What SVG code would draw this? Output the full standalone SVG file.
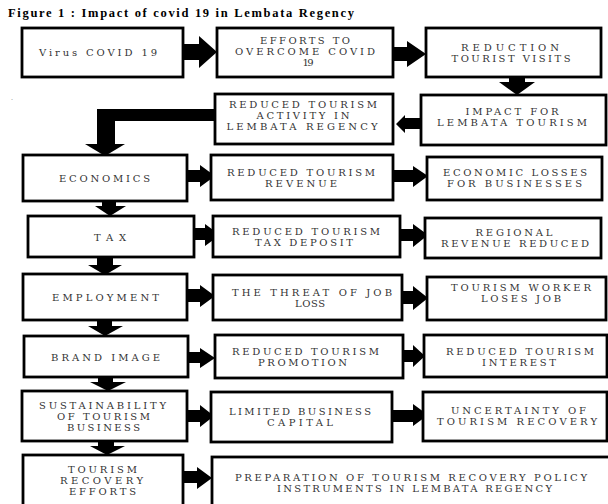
<svg xmlns="http://www.w3.org/2000/svg" width="608" height="504" viewBox="0 0 608 504">
  <style>
    .box { fill: #ffffff; stroke: #000000; stroke-width: 2.8; }
    .lbl { font-family: "DejaVu Serif", "Liberation Serif", serif; font-size: 10px; fill: #333333; text-anchor: middle; }
    .title { font-family: "Liberation Serif", "Times New Roman", serif; font-size: 12.5px; font-weight: bold; fill: #000000; }
    .arrow { fill: #000000; stroke: none; }
  </style>
  <rect width="608" height="504" fill="#ffffff"/>

  <text class="title" x="8" y="17" textLength="346" lengthAdjust="spacing">Figure 1 : Impact of covid 19 in Lembata Regency</text>
  <text x="11" y="100" font-family="Liberation Serif, serif" font-size="8" fill="#888888">.</text>

  <!-- connectors: block arrows -->
  <g id="connectors">
    <polygon class="arrow" points="183,44 199,44 199,36 217,52 199,68 199,60 183,60"/>
    <polygon class="arrow" points="393,47 407,47 407,41 426,54 407,67 407,61 393,61"/>
    <polygon class="arrow" points="509,77 525,77 525,82 535,82 517,95 499,82 509,82"/>
    <polygon class="arrow" points="421,118 405,118 405,115 396,124 405,133 405,129 421,129"/>
    <polygon class="arrow" points="215,109 97,109 97,144 85,144 105,156 125,144 115,144 115,121 215,121"/>
    <polygon class="arrow" points="102,201 116,201 116,206 126,206 110,216 95,206 102,206"/>
    <polygon class="arrow" points="97,257 113,257 113,265 122,265 105,275 88,265 97,265"/>
    <polygon class="arrow" points="97,320 112,320 112,326 123,326 105,336 88,326 97,326"/>
    <polygon class="arrow" points="98,377 113,377 113,382 126,382 108,391 90,382 98,382"/>
    <polygon class="arrow" points="98,441 114,441 114,446 125,446 107,455 90,446 98,446"/>
    <polygon class="arrow" points="183,471 197,471 197,467 212,478 197,489 197,483 183,483"/>
    <polygon class="arrow" points="187,170 200,170 200,165 215,176 200,187 200,182 187,182"/>
    <polygon class="arrow" points="393,170 413,170 413,166 428,176 413,187 413,182 393,182"/>
    <polygon class="arrow" points="194,228 205,228 205,224 220,235 205,246 205,240 194,240"/>
    <polygon class="arrow" points="400,229 413,229 413,224 428,235 413,247 413,241 400,241"/>
    <polygon class="arrow" points="187,289 200,289 200,285 215,296 200,307 200,302 187,302"/>
    <polygon class="arrow" points="402,291 413,291 413,286 428,298 413,310 413,304 402,304"/>
    <polygon class="arrow" points="188,352 200,352 200,348 215,358 200,368 200,363 188,363"/>
    <polygon class="arrow" points="403,350 413,350 413,345 425,356 413,367 413,362 403,362"/>
    <polygon class="arrow" points="187,410 200,410 200,405 214,416 200,427 200,422 187,422"/>
    <polygon class="arrow" points="392,410 413,410 413,404 428,415 413,426 413,422 392,422"/>
  </g>

  <!-- top chain -->
  <g id="virus">
    <rect class="box" x="22" y="28" width="161" height="49"/>
    <text class="lbl" x="98" y="56" textLength="118" lengthAdjust="spacing">Virus COVID 19</text>
  </g>
  <g id="efforts">
    <rect class="box" x="217" y="28" width="176" height="49"/>
    <text class="lbl" x="305" y="44" textLength="90" lengthAdjust="spacing">EFFORTS TO</text>
    <text class="lbl" x="305" y="54.5" textLength="140" lengthAdjust="spacing">OVERCOME COVID</text>
    <text class="lbl" x="308" y="65.5" textLength="11" lengthAdjust="spacing">19</text>
  </g>
  <g id="reduction">
    <rect class="box" x="426" y="28" width="175" height="49"/>
    <text class="lbl" x="510" y="50.5" textLength="98" lengthAdjust="spacing">REDUCTION</text>
    <text class="lbl" x="511" y="62" textLength="119" lengthAdjust="spacing">TOURIST VISITS</text>
  </g>
  <g id="impact">
    <rect class="box" x="421" y="95" width="185" height="50"/>
    <text class="lbl" x="512" y="114.5" textLength="93" lengthAdjust="spacing">IMPACT FOR</text>
    <text class="lbl" x="512" y="126" textLength="150" lengthAdjust="spacing">LEMBATA TOURISM</text>
  </g>
  <g id="activity">
    <rect class="box" x="215" y="94" width="178" height="50"/>
    <text class="lbl" x="303" y="107.5" textLength="148" lengthAdjust="spacing">REDUCED TOURISM</text>
    <text class="lbl" x="303" y="118.5" textLength="93" lengthAdjust="spacing">ACTIVITY IN</text>
    <text class="lbl" x="302" y="129.5" textLength="151" lengthAdjust="spacing">LEMBATA REGENCY</text>
  </g>

  <!-- economics row -->
  <g id="economics">
    <rect class="box" x="23" y="155" width="164" height="46"/>
    <text class="lbl" x="104.5" y="182" textLength="91" lengthAdjust="spacing">ECONOMICS</text>
  </g>
  <g id="revenue">
    <rect class="box" x="211" y="155" width="182" height="45"/>
    <text class="lbl" x="301" y="175.5" textLength="148" lengthAdjust="spacing">REDUCED TOURISM</text>
    <text class="lbl" x="301" y="186.5" textLength="72" lengthAdjust="spacing">REVENUE</text>
  </g>
  <g id="losses">
    <rect class="box" x="427" y="157" width="175" height="43"/>
    <text class="lbl" x="515" y="175.5" textLength="144" lengthAdjust="spacing">ECONOMIC LOSSES</text>
    <text class="lbl" x="514.5" y="186.5" textLength="135" lengthAdjust="spacing">FOR BUSINESSES</text>
  </g>

  <!-- tax row -->
  <g id="tax">
    <rect class="box" x="28" y="216" width="166" height="41"/>
    <text class="lbl" x="110" y="241" textLength="32" lengthAdjust="spacing">TAX</text>
  </g>
  <g id="tax-deposit">
    <rect class="box" x="213" y="216" width="187" height="41"/>
    <text class="lbl" x="306" y="234.5" textLength="148" lengthAdjust="spacing">REDUCED TOURISM</text>
    <text class="lbl" x="304" y="245.5" textLength="98" lengthAdjust="spacing">TAX DEPOSIT</text>
  </g>
  <g id="regional">
    <rect class="box" x="425" y="218" width="176" height="40"/>
    <text class="lbl" x="514" y="235.5" textLength="77" lengthAdjust="spacing">REGIONAL</text>
    <text class="lbl" x="515" y="246.5" textLength="148" lengthAdjust="spacing">REVENUE REDUCED</text>
  </g>

  <!-- employment row -->
  <g id="employment">
    <rect class="box" x="23" y="274" width="164" height="46"/>
    <text class="lbl" x="105.5" y="301" textLength="107" lengthAdjust="spacing">EMPLOYMENT</text>
  </g>
  <g id="job-threat">
    <rect class="box" x="213" y="275" width="189" height="45"/>
    <text class="lbl" x="312" y="295.5" textLength="160" lengthAdjust="spacing">THE THREAT OF JOB</text>
    <text class="lbl" x="310" y="306.5" textLength="30" lengthAdjust="spacing">LOSS</text>
  </g>
  <g id="job-loss">
    <rect class="box" x="427" y="277" width="179" height="43"/>
    <text class="lbl" x="521" y="290.5" textLength="140" lengthAdjust="spacing">TOURISM WORKER</text>
    <text class="lbl" x="521" y="301.5" textLength="80" lengthAdjust="spacing">LOSES JOB</text>
  </g>

  <!-- brand image row -->
  <g id="brand">
    <rect class="box" x="24" y="336" width="164" height="41"/>
    <text class="lbl" x="105.5" y="361" textLength="109" lengthAdjust="spacing">BRAND IMAGE</text>
  </g>
  <g id="promotion">
    <rect class="box" x="215" y="335" width="188" height="43"/>
    <text class="lbl" x="305.5" y="354.5" textLength="147" lengthAdjust="spacing">REDUCED TOURISM</text>
    <text class="lbl" x="302.5" y="365.5" textLength="89" lengthAdjust="spacing">PROMOTION</text>
  </g>
  <g id="interest">
    <rect class="box" x="424" y="335" width="183" height="42"/>
    <text class="lbl" x="520" y="354.5" textLength="148" lengthAdjust="spacing">REDUCED TOURISM</text>
    <text class="lbl" x="519" y="365.5" textLength="74" lengthAdjust="spacing">INTEREST</text>
  </g>

  <!-- sustainability row -->
  <g id="sustainability">
    <rect class="box" x="22" y="391" width="165" height="50"/>
    <text class="lbl" x="102.5" y="408.5" textLength="127" lengthAdjust="spacing">SUSTAINABILITY</text>
    <text class="lbl" x="103.5" y="419.5" textLength="93" lengthAdjust="spacing">OF TOURISM</text>
    <text class="lbl" x="103.5" y="430.5" textLength="73" lengthAdjust="spacing">BUSINESS</text>
  </g>
  <g id="capital">
    <rect class="box" x="211" y="392" width="181" height="50"/>
    <text class="lbl" x="300" y="414.5" textLength="142" lengthAdjust="spacing">LIMITED BUSINESS</text>
    <text class="lbl" x="300" y="425.5" textLength="66" lengthAdjust="spacing">CAPITAL</text>
  </g>
  <g id="uncertainty">
    <rect class="box" x="423" y="392" width="184" height="49"/>
    <text class="lbl" x="518.5" y="413.5" textLength="135" lengthAdjust="spacing">UNCERTAINTY OF</text>
    <text class="lbl" x="517" y="424.5" textLength="160" lengthAdjust="spacing">TOURISM RECOVERY</text>
  </g>

  <!-- recovery row -->
  <g id="recovery">
    <rect class="box" x="23" y="455" width="160" height="56"/>
    <text class="lbl" x="102.5" y="472.5" textLength="69" lengthAdjust="spacing">TOURISM</text>
    <text class="lbl" x="101.5" y="483.5" textLength="83" lengthAdjust="spacing">RECOVERY</text>
    <text class="lbl" x="102.5" y="494.5" textLength="67" lengthAdjust="spacing">EFFORTS</text>
  </g>
  <g id="policy">
    <rect class="box" x="212" y="457" width="400" height="54"/>
    <text class="lbl" x="411" y="480.5" textLength="352" lengthAdjust="spacing">PREPARATION OF TOURISM RECOVERY POLICY</text>
    <text class="lbl" x="414.5" y="491.5" textLength="275" lengthAdjust="spacing">INSTRUMENTS IN LEMBATA REGENCY</text>
  </g>
</svg>
